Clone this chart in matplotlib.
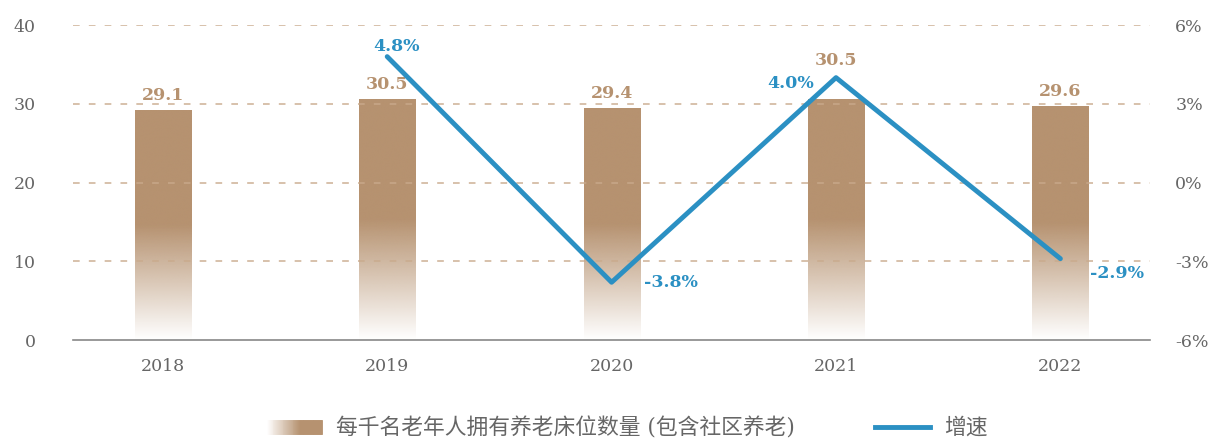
import numpy as np
import matplotlib.pyplot as plt
from matplotlib.colors import to_rgb
from matplotlib.patches import Rectangle
from matplotlib.lines import Line2D
from matplotlib.legend_handler import HandlerBase

years = ["2018", "2019", "2020", "2021", "2022"]
beds = [29.1, 30.5, 29.4, 30.5, 29.6]
growth_years = ["2019", "2020", "2021", "2022"]
growth = [4.8, -3.8, 4.0, -2.9]

bar_name = "每千名老年人拥有养老床位数量 (包含社区养老)"
line_name = "增速"

BROWN = "#b69270"
BLUE = "#2b90c3"
GRID = "#c9aa8c"
GREY = "#666666"
FONT = ["DejaVu Serif", "Noto Sans CJK SC", "DejaVu Sans"]

plt.rcParams["font.family"] = FONT


def gradient(n=256, fade=0.5):
    # alpha ramps from 0 at the bottom to 1 at `fade` of the height
    t = np.linspace(0, 1, n)
    a = np.clip(t / fade, 0, 1)
    rgba = np.zeros((n, 1, 4))
    rgba[..., :3] = to_rgb(BROWN)
    rgba[..., 3] = a[:, None]
    return rgba


fig = plt.figure(figsize=(12.13, 4.41), dpi=100)
ax = fig.add_axes([0.0602, 0.229, 0.888, 0.714])
ax2 = ax.twinx()

x = np.arange(len(years))
w = 0.25
grad = gradient()
bar_lift = [5, 5, 5, 22, 5]
for xi, v, lift in zip(x, beds, bar_lift):
    ax.imshow(grad, extent=[xi - w / 2, xi + w / 2, 0, v], origin="lower",
              aspect="auto", zorder=2, interpolation="bicubic")
    ax.annotate(f"{v:.1f}", (xi, v), xytext=(0, lift), textcoords="offset points",
                ha="center", va="bottom", color=BROWN, fontsize=12.5,
                fontweight="bold")

ax.set_xlim(-0.4, len(years) - 0.6)
ax.set_ylim(0, 40)
ax.set_yticks([0, 10, 20, 30, 40])
for y in [10, 20, 30, 40]:
    ax.axhline(y, color=GRID, lw=1.2, ls=(0, (4, 5.5)), alpha=0.85, zorder=3)

gx = [years.index(y) for y in growth_years]
ax2.plot(gx, growth, color=BLUE, lw=3.5, zorder=5, solid_capstyle="round")
ax2.set_ylim(-6, 6)
ax2.set_yticks([-6, -3, 0, 3, 6])
ax2.set_yticklabels([f"{t}%" for t in [-6, -3, 0, 3, 6]])

offsets = [(7, 1, "center", "bottom"), (23, 0, "left", "center"),
           (-16, -4, "right", "center"), (21, -11, "left", "center")]
for xi, g, (dx, dy, ha, va) in zip(gx, growth, offsets):
    ax2.annotate(f"{g:.1f}%", (xi, g), xytext=(dx, dy), textcoords="offset points",
                 ha=ha, va=va, color=BLUE, fontsize=12.5, fontweight="bold")

ax.set_xticks(x)
ax.set_xticklabels(years)
for a in (ax, ax2):
    for s in a.spines.values():
        s.set_visible(False)
    a.tick_params(length=0, labelsize=12.5, colors=GREY)
ax.spines["bottom"].set_visible(True)
ax.spines["bottom"].set_color("#888888")
ax.spines["bottom"].set_linewidth(1.2)
ax.tick_params(axis="x", pad=13)
ax.tick_params(axis="y", pad=27)
ax2.tick_params(axis="y", pad=18)
ax2.set_zorder(ax.get_zorder() + 1)
ax2.patch.set_visible(False)


class GradientPatch(HandlerBase):
    def create_artists(self, legend, orig, xd, yd, width, height, fontsize, trans):
        n = 60
        base = np.array(to_rgb(BROWN))
        arts = []
        for i in range(n):
            t = min(1, ((i + 0.5) / n) / 0.6)
            c = 1 - t * (1 - base)
            r = Rectangle((xd + width * i / n, yd), width / n, height,
                          facecolor=c, edgecolor=c, lw=0.6, transform=trans)
            arts.append(r)
        return arts


handles = [Rectangle((0, 0), 1, 1), Line2D([], [], color=BLUE, lw=3.5)]
fig.legend(handles, [bar_name, line_name], loc="lower center",
           bbox_to_anchor=(0.517, -0.04), ncol=2, frameon=False,
           handler_map={Rectangle: GradientPatch()}, handlelength=2.5,
           handleheight=0.64, columnspacing=3.7, handletextpad=0.64,
           prop={"family": FONT, "size": 15.7}, labelcolor=GREY)

fig.savefig("out.png", dpi=100)
